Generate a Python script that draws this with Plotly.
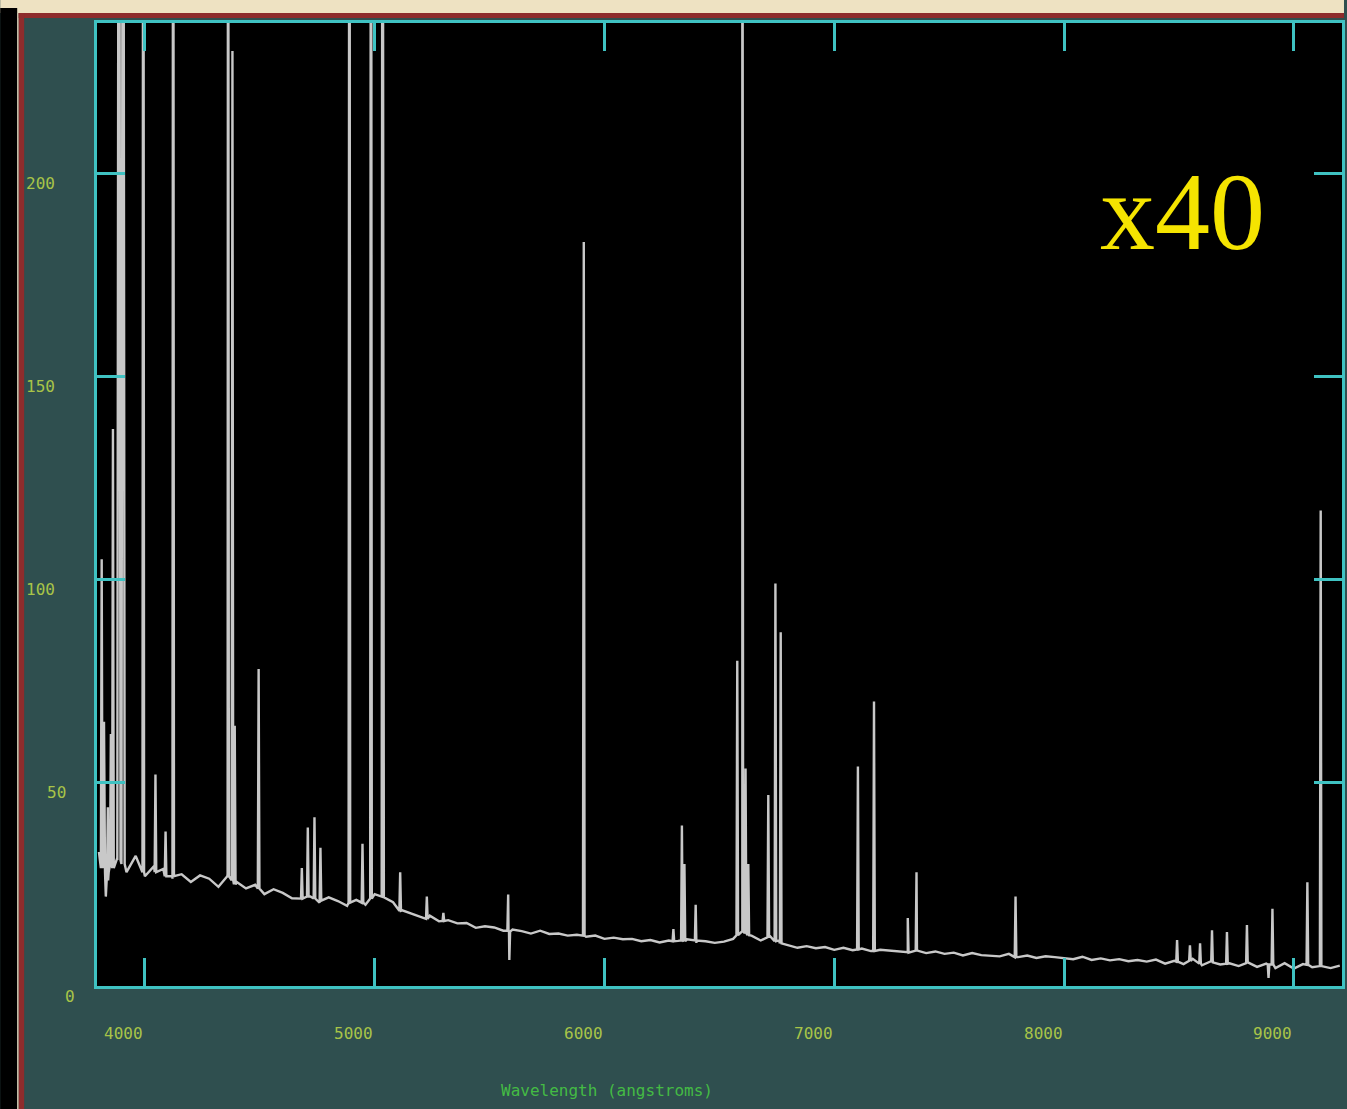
import plotly.graph_objects as go

# ---------------- data ----------------
cont_wave = list(range(3800, 9201, 40))
cont_flux = [
    33, 26, 31.5, 28, 32, 27, 29.5, 28.8, 26.4, 27.5,
    25.6, 27.2, 26.4, 24.4, 27.5, 25.6, 24, 24.9, 22.6, 23.8,
    22.9, 21.6, 22.4, 22, 20.5, 21.8, 20.9, 19.7, 21.2, 20,
    22.6, 21.8, 20.6, 18.6, 17.8, 16.9, 17.3, 15.9, 16.2, 15.4,
    15.5, 14.3, 14.7, 14.4, 13.6, 13.9, 13.5, 12.9, 13.6, 12.8,
    12.9, 12.4, 12.6, 12.1, 12.4, 11.6, 11.9, 11.5, 11.6, 11,
    11.3, 10.7, 11.2, 11.1, 11.5, 10.6, 11, 10.6, 10.9, 11.6,
    13.5, 12.4, 11.2, 12.3, 11.2, 10.1, 9.4, 9.8, 9.3, 9.6,
    8.9, 9.4, 8.8, 9.2, 8.6, 8.9, 8.7, 8.5, 8.3, 9,
    8.1, 8.5, 7.9, 8.2, 7.5, 8.1, 7.6, 7.4, 7.3, 7.9,
    7.1, 7.5, 6.9, 7.3, 7.1, 6.8, 6.6, 7.2, 6.4, 6.8,
    6.3, 6.6, 6.1, 6.4, 6, 6.5, 5.5, 6.2, 5.4, 6.7,
    5.1, 6.1, 5.3, 5.6, 4.9, 5.8, 4.7, 5.5, 4.4, 5.6,
    4.3, 5.4, 4.6, 5.2, 4.4, 5,
]

# emission / absorption features: centre wavelength, peak value, local continuum
line_wave = [3812, 3822, 3830, 3839, 3852, 3861, 3887, 3905, 3993, 4046, 4090, 4123,
             4362, 4381, 4391, 4495, 4683, 4709, 4738, 4764, 4890, 4947, 4984, 5034,
             5111, 5227, 5299, 5581, 5586, 5910, 6300, 6337, 6348, 6397, 6578, 6600,
             6614, 6626, 6713, 6744, 6767, 7103, 7173, 7320, 7358, 7789, 8492, 8548,
             8592, 8644, 8709, 8796, 8890, 8907, 9059, 9117]
line_peak = [105, 65, 22, 44, 62, 137, 400, 400, 400, 52, 38, 400,
             400, 230, 64, 78, 29, 39, 41.5, 34, 400, 35, 400, 400,
             28, 22, 18, 22.5, 6.4, 183, 14, 39.5, 30, 20, 80, 400,
             53.5, 30, 47, 99, 87, 54, 70, 16.7, 28, 22, 11.3, 10,
             10.5, 13.7, 13.3, 15, 2, 19, 25.5, 117]
line_base = [29, 30, 28, 28, 30, 29, 31, 30, 28, 28, 27, 27,
             27, 26, 25, 24, 21.5, 22, 21.5, 21, 20.5, 20.5, 21.5, 22,
             18.5, 16.5, 16, 13.6, 13.4, 12.4, 11, 11.2, 11, 11.2, 12.5, 13.5,
             13, 12.5, 12, 11, 10.5, 9, 8.6, 8.2, 8.7, 7.1, 6, 6.2,
             5.5, 5.8, 5.5, 5.6, 5.3, 5.3, 5.2, 4.9]

x_ticks = [4000, 5000, 6000, 7000, 8000, 9000]
y_ticks = [0, 50, 100, 150, 200]
x_title = "Wavelength (angstroms)"
scale_label = "x40"

# ---------------- build the spectrum trace ----------------
pts = list(zip(cont_wave, cont_flux))
for w, p, b in zip(line_wave, line_peak, line_base):
    hw = 7 if p >= 400 and w < 3950 else 3.5
    pts += [(w - hw, b), (w, p), (w + hw, b)]
pts.sort(key=lambda t: t[0])
spec_x = [t[0] for t in pts]
spec_y = [t[1] for t in pts]

W, H = 1347, 1109
L, R, T, B = 97, 2, 23, 123
PW, PH = W - L - R, H - T - B


def pxp(xp):
    return (xp - L) / PW


def pyp(yp):
    return (H - B - yp) / PH


CYAN = "#3fc2c2"
SLATE = "#2f4f4f"
LABEL = "#a8c448"

fig = go.Figure()
fig.add_trace(go.Scatter(x=spec_x, y=spec_y, mode="lines",
                         line=dict(color="#c8c8c8", width=2.4),
                         hoverinfo="skip", showlegend=False))

axis_common = dict(showline=True, linecolor=CYAN, linewidth=3, mirror="ticks",
                   ticks="inside", ticklen=28, tickwidth=3, tickcolor=CYAN,
                   showgrid=False, zeroline=False, showticklabels=False)
fig.update_xaxes(range=[3791.6, 9209.7], tickvals=x_ticks, **axis_common)
fig.update_yaxes(range=[0, 236.9], tickvals=y_ticks, **axis_common)

ann = []
for v in x_ticks:
    ann.append(dict(x=v, y=pyp(1033), xref="x", yref="paper", text=str(v),
                    showarrow=False, xshift=-21, xanchor="center", yanchor="middle",
                    font=dict(family="DejaVu Sans Mono", size=16, color=LABEL)))
ylab_cx = {0: 70, 50: 56, 100: 40, 150: 40, 200: 40}
for v in y_ticks:
    ann.append(dict(x=pxp(ylab_cx[v]), y=v, xref="paper", yref="y", text=str(v),
                    showarrow=False, yshift=-10, xanchor="center", yanchor="middle",
                    font=dict(family="DejaVu Sans Mono", size=16, color=LABEL)))
ann.append(dict(x=pxp(608), y=pyp(1090), xref="paper", yref="paper", text=x_title,
                showarrow=False, xanchor="center", yanchor="middle",
                font=dict(family="DejaVu Sans Mono", size=16, color="#44bb44")))
ann.append(dict(x=pxp(1100), y=pyp(212), xref="paper", yref="paper", text=scale_label,
                showarrow=False, xanchor="left", yanchor="middle",
                font=dict(family="Liberation Serif", size=110, color="#f5e400")))

shapes = [
    dict(type="rect", xref="paper", yref="paper", x0=pxp(0), x1=pxp(W), y0=pyp(0), y1=pyp(13),
         fillcolor="#eee2c2", line=dict(width=0), layer="above"),
    dict(type="rect", xref="paper", yref="paper", x0=pxp(0), x1=pxp(17), y0=pyp(8), y1=pyp(H),
         fillcolor="#000000", line=dict(width=0), layer="above"),
    dict(type="rect", xref="paper", yref="paper", x0=pxp(17), x1=pxp(18.5), y0=pyp(13), y1=pyp(H),
         fillcolor="#e8dcc0", line=dict(width=0), layer="above"),
    dict(type="rect", xref="paper", yref="paper", x0=pxp(18.5), x1=pxp(W), y0=pyp(13), y1=pyp(18),
         fillcolor="#8e2c2c", line=dict(width=0), layer="above"),
    dict(type="rect", xref="paper", yref="paper", x0=pxp(18.5), x1=pxp(24), y0=pyp(13), y1=pyp(H),
         fillcolor="#8e2c2c", line=dict(width=0), layer="above"),
]

fig.update_layout(width=W, height=H, margin=dict(l=L, r=R, t=T, b=B),
                  paper_bgcolor=SLATE, plot_bgcolor="#000000",
                  annotations=ann, shapes=shapes, showlegend=False)

fig.write_html("out.html", config={"displayModeBar": False},
               post_script="document.body.style.margin='0';document.body.style.overflow='hidden';")
